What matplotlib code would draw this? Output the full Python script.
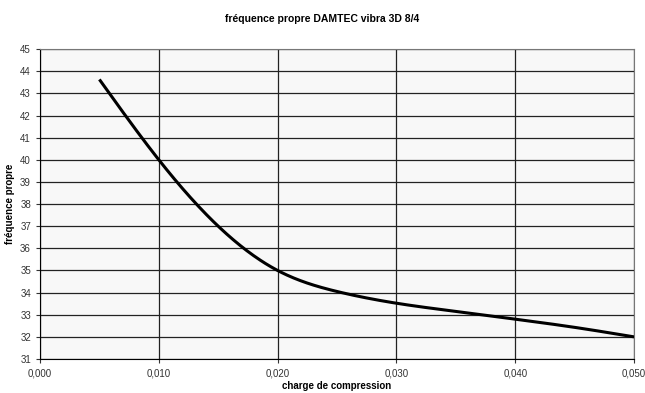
import numpy as np
import matplotlib.pyplot as plt
from matplotlib.ticker import FuncFormatter

plt.rcParams['font.family'] = ['Liberation Sans', 'DejaVu Sans']

# charge de compression vs fréquence propre
charge = [0.005, 0.010, 0.015, 0.020, 0.025, 0.030, 0.035, 0.040, 0.045, 0.050]
freq = [43.63, 40.0, 37.0, 35.0, 34.05, 33.52, 33.15, 32.8, 32.43, 32.0]


def smooth(x, y, n=400):
    # natural cubic spline through the points
    x = np.asarray(x, float)
    y = np.asarray(y, float)
    h = np.diff(x)
    k = len(x)
    A = np.zeros((k, k))
    b = np.zeros(k)
    A[0, 0] = A[-1, -1] = 1
    for i in range(1, k - 1):
        A[i, i - 1] = h[i - 1]
        A[i, i] = 2 * (h[i - 1] + h[i])
        A[i, i + 1] = h[i]
        b[i] = 6 * ((y[i + 1] - y[i]) / h[i] - (y[i] - y[i - 1]) / h[i - 1])
    m = np.linalg.solve(A, b)
    xs = np.linspace(x[0], x[-1], n)
    j = np.clip(np.searchsorted(x, xs) - 1, 0, k - 2)
    t0 = x[j + 1] - xs
    t1 = xs - x[j]
    hj = h[j]
    ys = (m[j] * t0 ** 3 + m[j + 1] * t1 ** 3) / (6 * hj) \
        + (y[j] / hj - m[j] * hj / 6) * t0 + (y[j + 1] / hj - m[j + 1] * hj / 6) * t1
    return xs, ys


fig = plt.figure(figsize=(6.45, 3.93), dpi=100)
ax = fig.add_axes([0.062, 0.0865, 0.921, 0.7885])
ax.set_facecolor('#f8f8f8')

sx, sy = smooth(charge, freq)
ax.plot(sx, sy, color='black', lw=2.2, solid_capstyle='butt', zorder=3)

ax.set_xlim(0, 0.05)
ax.set_ylim(31, 45)
ax.set_xticks(np.arange(0, 0.0501, 0.01))
ax.set_yticks(range(31, 46))
ax.xaxis.set_major_formatter(FuncFormatter(lambda v, p: f'{v:.3f}'.replace('.', ',')))
ax.grid(True, color='#222222', lw=0.9)
ax.set_axisbelow(True)

for side in ('top', 'right'):
    ax.spines[side].set_color('#777777')
for side in ('left', 'bottom'):
    ax.spines[side].set_color('black')
ax.tick_params(labelsize=7, colors='#333333', length=3, width=0.8)

ax.set_xlabel('charge de compression', fontsize=7, fontweight='bold', labelpad=2)
ax.set_ylabel('fréquence propre', fontsize=7, fontweight='bold', labelpad=4)
fig.suptitle('fréquence propre DAMTEC vibra 3D 8/4', fontsize=7.5,
             fontweight='bold', y=0.965)

fig.savefig('out.png', dpi=100)
